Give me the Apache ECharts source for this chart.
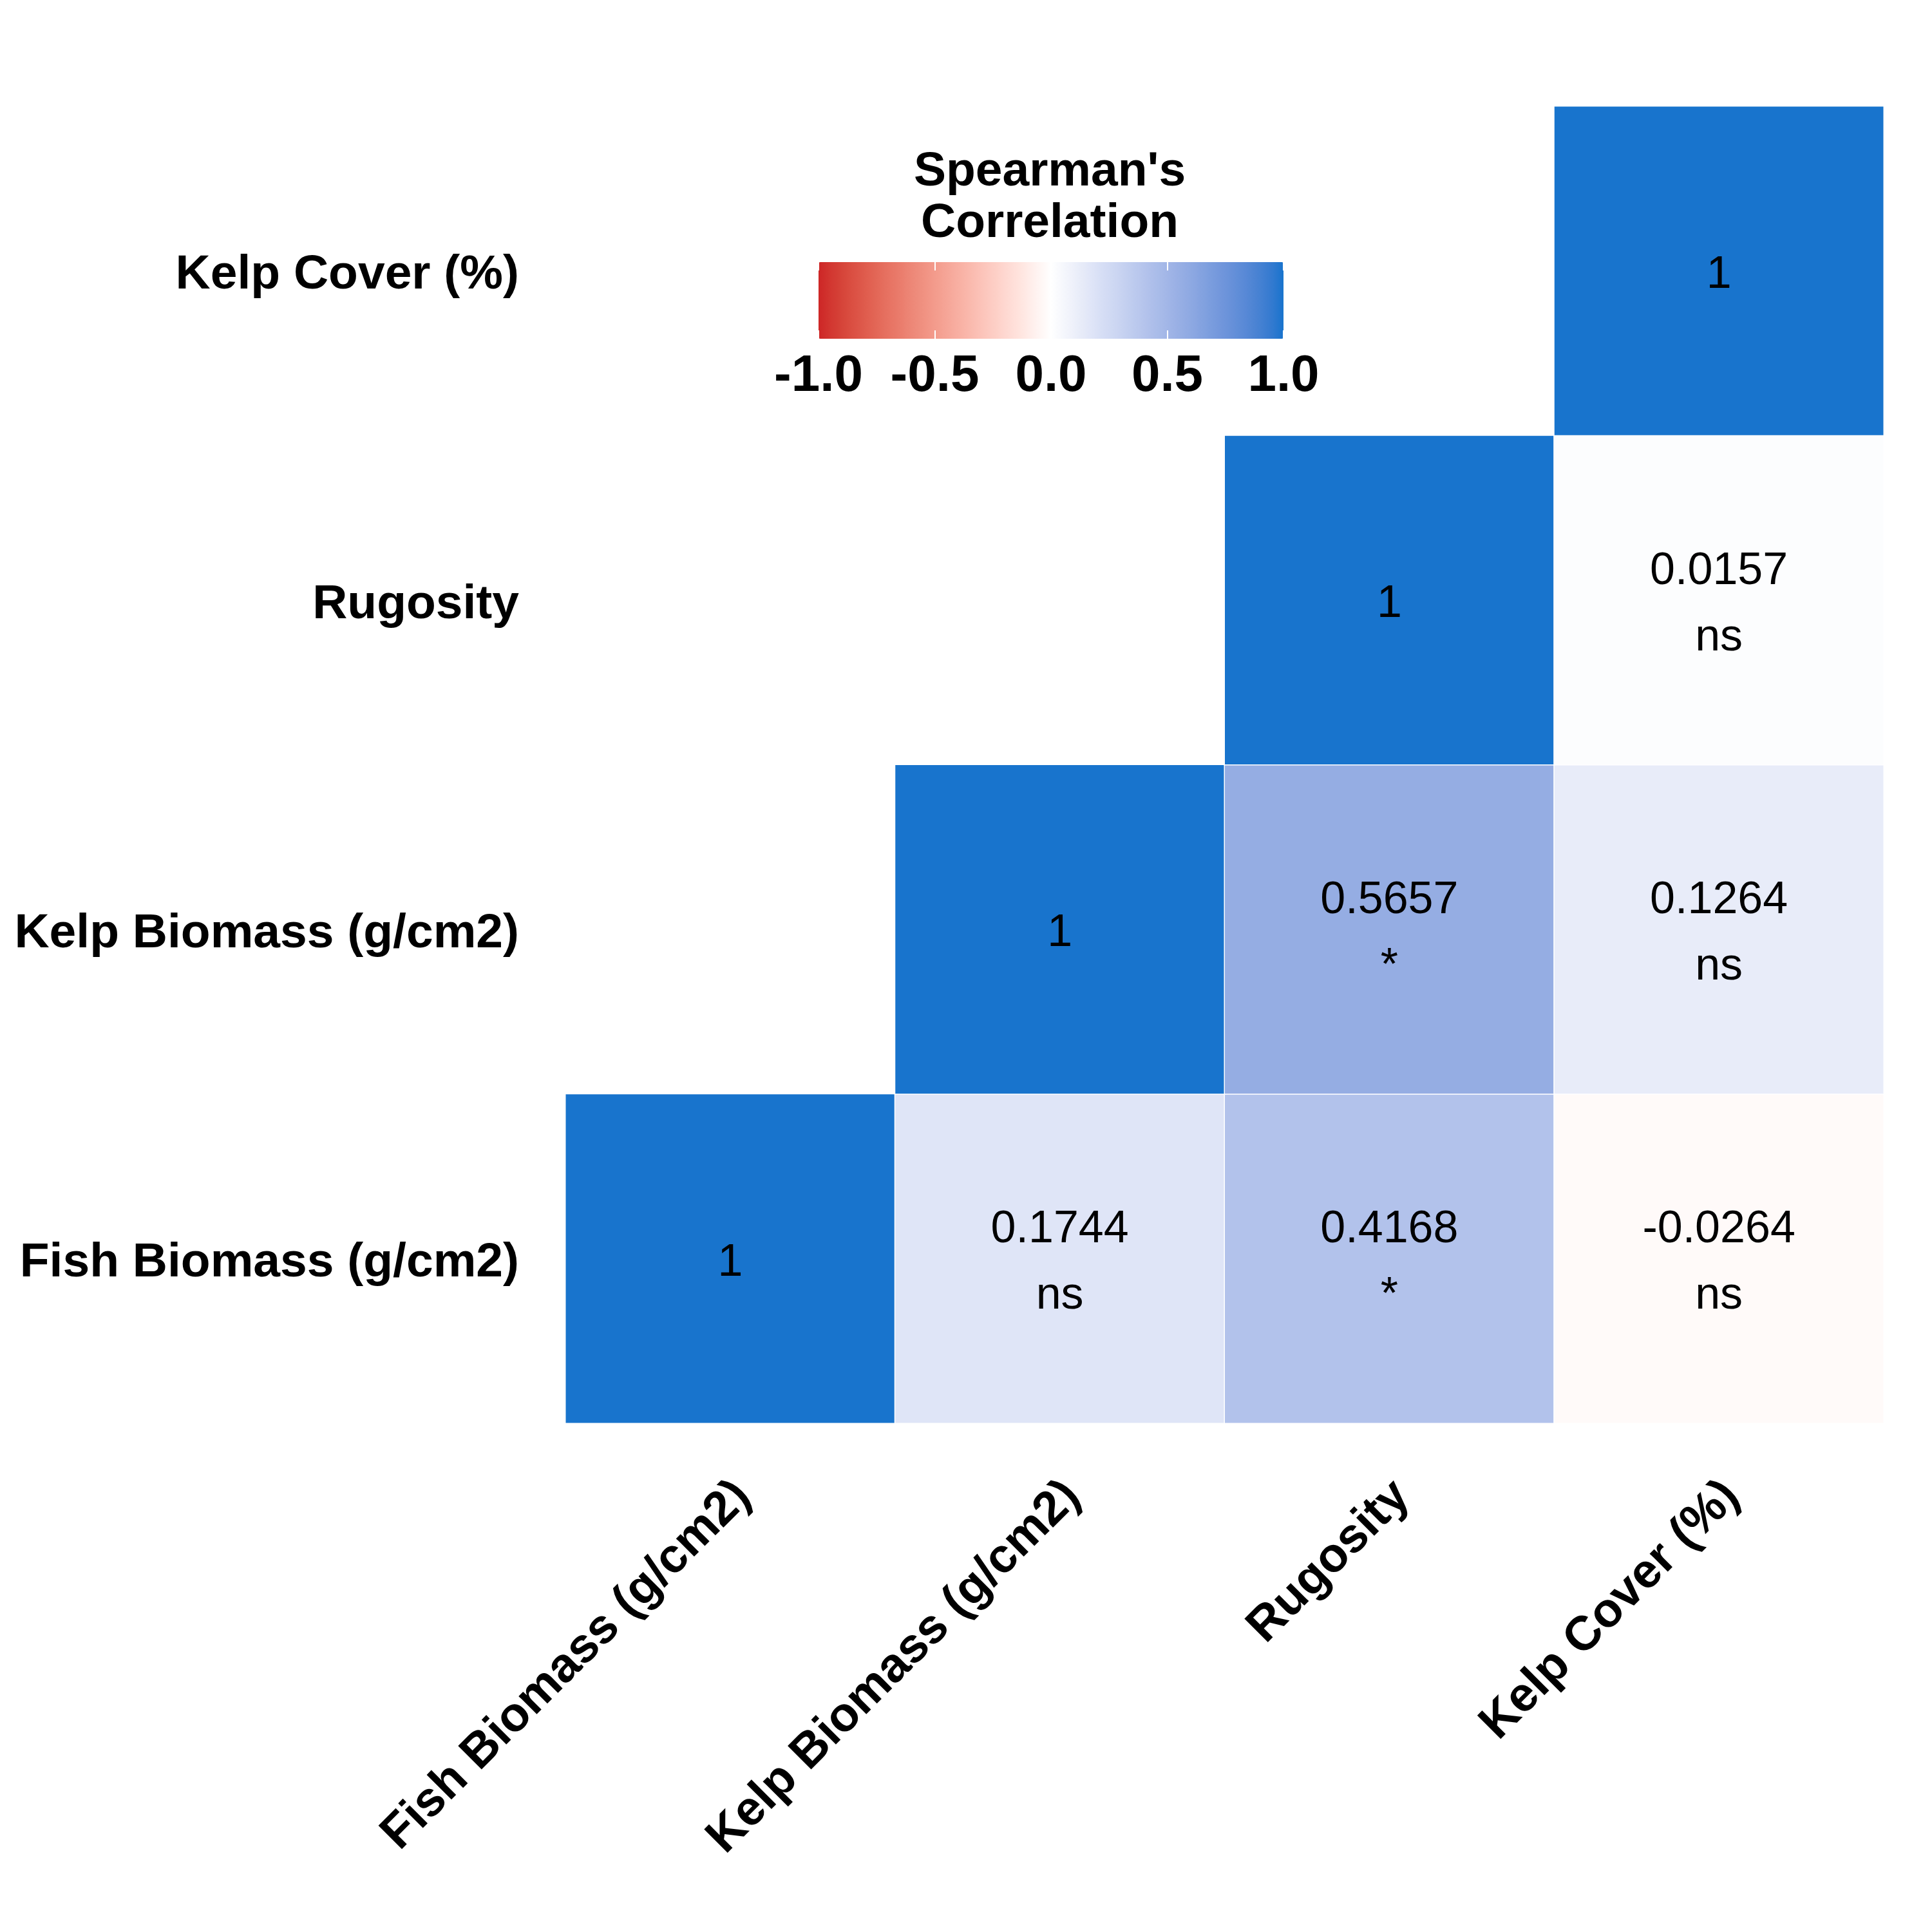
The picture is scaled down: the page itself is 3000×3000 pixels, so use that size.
<!DOCTYPE html>
<html>
<head>
<meta charset="utf-8">
<script src="https://cdn.jsdelivr.net/npm/echarts@6/dist/echarts.min.js"></script>
<style>html,body{margin:0;padding:0;background:#fff}#c{width:3000px;height:3000px}</style>
</head>
<body>
<div id="c"></div>
<script>
// ---- data ----
const variables = ['Fish Biomass (g/cm2)', 'Kelp Biomass (g/cm2)', 'Rugosity', 'Kelp Cover (%)'];
const cellX = [0, 1, 2, 3, 1, 2, 3, 2, 3, 3];
const cellY = [0, 0, 0, 0, 1, 1, 1, 2, 2, 3];
const corrValue = [1, 0.1744, 0.4168, -0.0264, 1, 0.5657, 0.1264, 1, 0.0157, 1];
const corrSig = ['', 'ns', '*', 'ns', '', '*', 'ns', '', 'ns', ''];
const legendTicks = [-1, -0.5, 0, 0.5, 1];
const legendTitle = "Spearman's\nCorrelation";

// ---- Lab interpolation of the diverging palette (low / mid / high) ----
const lowCol = [205, 38, 38], midCol = [255, 255, 255], highCol = [24, 116, 205];
const WX = 0.95047, WY = 1.0, WZ = 1.08883;
function toLin(c) { c /= 255; return c <= 0.04045 ? c / 12.92 : Math.pow((c + 0.055) / 1.055, 2.4); }
function fromLin(c) { const v = c <= 0.0031308 ? 12.92 * c : 1.055 * Math.pow(c, 1 / 2.4) - 0.055; return Math.round(Math.min(1, Math.max(0, v)) * 255); }
function f(t) { return t > 0.008856 ? Math.cbrt(t) : 7.787 * t + 16 / 116; }
function finv(t) { const t3 = t * t * t; return t3 > 0.008856 ? t3 : (t - 16 / 116) / 7.787; }
function rgb2lab(c) {
  const r = toLin(c[0]), g = toLin(c[1]), b = toLin(c[2]);
  const X = (0.4124 * r + 0.3576 * g + 0.1805 * b) / WX;
  const Y = (0.2126 * r + 0.7152 * g + 0.0722 * b) / WY;
  const Z = (0.0193 * r + 0.1192 * g + 0.9505 * b) / WZ;
  const fx = f(X), fy = f(Y), fz = f(Z);
  return [116 * fy - 16, 500 * (fx - fy), 200 * (fy - fz)];
}
function lab2rgb(l) {
  const fy = (l[0] + 16) / 116, fx = fy + l[1] / 500, fz = fy - l[2] / 200;
  const X = finv(fx) * WX, Y = finv(fy) * WY, Z = finv(fz) * WZ;
  const r = 3.2406 * X - 1.5372 * Y - 0.4986 * Z;
  const g = -0.9689 * X + 1.8758 * Y + 0.0415 * Z;
  const b = 0.0557 * X - 0.2040 * Y + 1.0570 * Z;
  return 'rgb(' + fromLin(r) + ',' + fromLin(g) + ',' + fromLin(b) + ')';
}
const labLow = rgb2lab(lowCol), labMid = rgb2lab(midCol), labHigh = rgb2lab(highCol);
const paletteStops = [];
const NSTOP = 40;
for (let i = 0; i <= NSTOP; i++) {
  const v = -1 + 2 * i / NSTOP;
  const a = v < 0 ? labLow : labHigh;
  const t = Math.abs(v);
  paletteStops.push(lab2rgb([0, 1, 2].map(k => labMid[k] + (a[k] - labMid[k]) * t)));
}

const FONT = 'Liberation Sans';
const heatData = corrValue.map((v, i) => ({ value: [cellX[i], cellY[i], v], sig: corrSig[i] }));

const chart = echarts.init(document.getElementById('c'), null, { renderer: 'canvas' });
chart.setOption({
  backgroundColor: '#ffffff',
  animation: false,
  title: {
    text: legendTitle,
    left: 1625,
    top: 222,
    textAlign: 'center',
    textStyle: { fontFamily: FONT, fontWeight: 'bold', fontSize: 75, lineHeight: 80, color: '#000' }
  },
  grid: [
    { left: 878, top: 165, width: 2047, height: 2045 },
    { left: 1271, top: 407, width: 722, height: 119 }
  ],
  xAxis: [
    {
      type: 'category', data: variables, gridIndex: 0,
      axisLine: { show: false }, axisTick: { show: false }, splitLine: { show: false },
      axisLabel: { rotate: 45, margin: 69, verticalAlign: 'top', padding: [0, 9, 0, 0],
        fontFamily: FONT, fontWeight: 'bold', fontSize: 75, color: '#000', interval: 0 }
    },
    {
      type: 'value', gridIndex: 1, min: -1, max: 1, interval: 0.5, position: 'bottom', z: 10,
      axisLine: { show: false }, splitLine: { show: false },
      axisTick: { show: true, inside: true, length: 13, lineStyle: { color: '#ffffff', width: 2 } },
      axisLabel: { margin: 19, fontFamily: FONT, fontWeight: 'bold', fontSize: 80, color: '#000',
        formatter: v => legendTicks.indexOf(v) >= 0 ? v.toFixed(1) : '' }
    },
    {
      type: 'value', gridIndex: 1, min: -1, max: 1, interval: 0.5, position: 'top', z: 10,
      axisLine: { show: false }, splitLine: { show: false }, axisLabel: { show: false },
      axisTick: { show: true, inside: true, length: 13, lineStyle: { color: '#ffffff', width: 2 } }
    }
  ],
  yAxis: [
    {
      type: 'category', data: variables, gridIndex: 0,
      axisLine: { show: false }, axisTick: { show: false }, splitLine: { show: false },
      axisLabel: { margin: 72, formatter: v => '{a|' + v + '}',
        rich: { a: { padding: [14, 0, 0, 0], fontFamily: FONT, fontWeight: 'bold', fontSize: 75, color: '#000' } } }
    },
    { type: 'value', gridIndex: 1, show: false, min: 0, max: 1 }
  ],
  visualMap: {
    type: 'continuous', min: -1, max: 1, seriesIndex: 0, dimension: 2,
    orient: 'horizontal', calculable: false, hoverLink: false, realtime: false,
    left: 1271, top: 407, padding: 0, itemWidth: 119, itemHeight: 722,
    inRange: { color: paletteStops },
    textStyle: { fontSize: 0 }
  },
  series: [{
    type: 'heatmap',
    xAxisIndex: 0, yAxisIndex: 0,
    data: heatData,
    itemStyle: { borderColor: '#ffffff', borderWidth: 1.5 },
    emphasis: { disabled: true },
    label: {
      show: true, offset: [0, 7], fontFamily: FONT, fontSize: 70, lineHeight: 103, color: '#000',
      formatter: p => p.data.sig ? p.value[2].toFixed(4) + '\n' + p.data.sig : String(p.value[2])
    }
  }]
});
</script>
</body>
</html>
